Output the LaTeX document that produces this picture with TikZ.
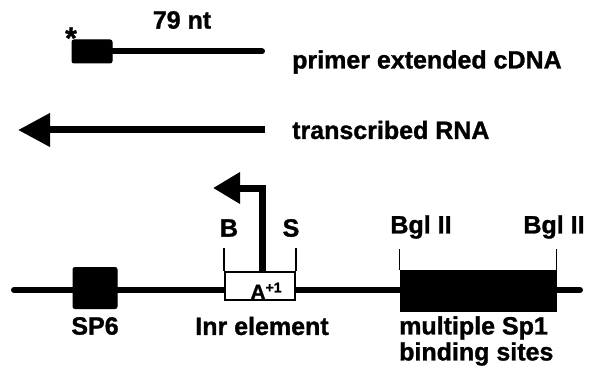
\documentclass[tikz,border=0pt]{standalone}
\usepackage{fontspec}
\setmainfont{Liberation Sans}[BoldFeatures={FakeBold=1.2}]
\usetikzlibrary{arrows.meta}
\begin{document}
\begin{tikzpicture}[x=1pt,y=-1pt,
  lbl/.style={font=\fontsize{25}{28}\selectfont\bfseries, inner sep=0pt},
  thick line/.style={line width=6pt},
  solidbox/.style={fill=black, draw=black, rounded corners=2pt, line width=1pt},
  bar/.style={line width=1.8pt},
  bigarrow/.style={line width=7pt, -{Triangle[width=32pt,length=32pt]}}]
\useasboundingbox (0,0) rectangle (589,385);
% primer extended cDNA
\node[solidbox, minimum width=40pt, minimum height=23pt, inner sep=0pt] (pbox) at (92,51.5) {};
\coordinate (pend) at (262,51.5);
\draw[thick line, line cap=round] (pbox.east) -- (pend);
\node[font=\fontsize{30}{30}\selectfont\bfseries, inner sep=0pt] (star) at (71,38) {*};
\node[lbl] (nt) at (182,20) {79 nt};
\node[lbl, anchor=west] (cdna) at (292,62) {primer extended cDNA};
% transcribed RNA
\coordinate (rnastart) at (265,130);
\coordinate (rnatip) at (18,130);
\draw[bigarrow] (rnastart) -- (rnatip);
\node[lbl, anchor=west] (rna) at (292,130) {transcribed RNA};
% main line
\coordinate (left) at (14,290);
\coordinate (right) at (580,290);
\draw[thick line, line cap=round] (left) -- (right);
% SP6
\node[solidbox, minimum width=44pt, minimum height=41pt, inner sep=0pt] (sp6) at (95,288) {};
\node[lbl] (sp6l) at (95,326) {SP6};
% Inr element
\node[draw=black, fill=white, line width=1.8pt, minimum width=70pt, minimum height=28pt, inner sep=0pt] (inr) at (260,286) {};
\node[font=\fontsize{21}{22}\selectfont\bfseries, inner sep=0pt] (aplus) at (266,291) {A\raisebox{7pt}{\fontsize{14}{14}\selectfont +1}};
\coordinate (bt) at (inr.north west |- 0,248);
\coordinate (st) at (inr.north east |- 0,248);
\draw[bar] (bt) -- (inr.north west);
\draw[bar] (st) -- (inr.north east);
\node[lbl] (blab) at (229,228) {B};
\node[lbl] (slab) at (291,228) {S};
\coordinate (pbase) at (262,272);
\coordinate (pcorner) at (262,188);
\coordinate (ptip) at (213,188);
\draw[line width=7pt, -{Triangle[width=30pt,length=27pt]}] (pbase) -- (pcorner) -- (ptip);
\node[lbl] (inrl) at (262,326) {Inr element};
% Sp1 sites
\node[fill=black, draw=black, line width=1pt, minimum width=156pt, minimum height=41pt, inner sep=0pt] (sp1) at (478,290.5) {};
\coordinate (bg1) at (sp1.north west |- 0,249);
\coordinate (bg2) at (sp1.north east |- 0,249);
\draw[bar] (bg1) -- (sp1.north west);
\draw[bar] (bg2) -- (sp1.north east);
\node[lbl] (bgl1) at (421,227) {Bgl II};
\node[lbl] (bgl2) at (554,227) {Bgl II};
\node[lbl, anchor=west] (ms) at (399,328) {multiple Sp1};
\node[lbl, anchor=west] (bs) at (399,354) {binding sites};
\end{tikzpicture}
\end{document}
